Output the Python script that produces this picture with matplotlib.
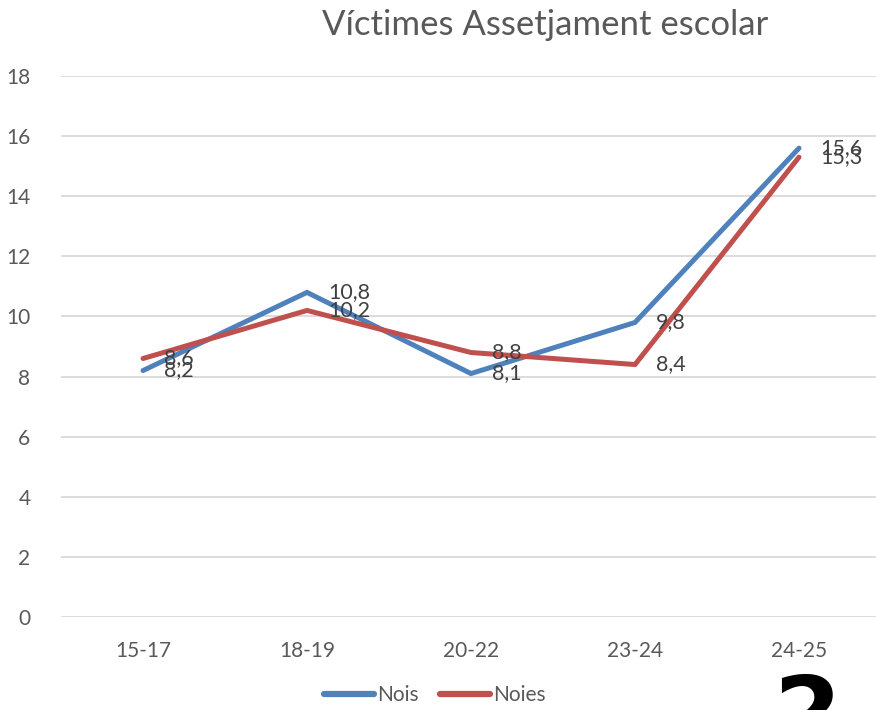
import matplotlib.pyplot as plt
import numpy as np

# data
categories = ['15-17', '18-19', '20-22', '23-24', '24-25']
nois = [8.2, 10.8, 8.1, 9.8, 15.6]
noies = [8.6, 10.2, 8.8, 8.4, 15.3]
yticks = [0, 2, 4, 6, 8, 10, 12, 14, 16, 18]

plt.rcParams['font.family'] = ['Lato', 'DejaVu Sans']

fig = plt.figure(figsize=(8.76, 7.10), dpi=100)
ax = fig.add_axes([61 / 876, 93 / 710, 820 / 876, 541 / 710])

x = np.arange(len(categories))
blue = '#4F81BD'
red = '#C0504D'
ax.plot(x, nois, color=blue, lw=3.6, solid_capstyle='round', solid_joinstyle='miter', label='Nois', zorder=3)
ax.plot(x, noies, color=red, lw=3.6, solid_capstyle='round', solid_joinstyle='miter', label='Noies', zorder=3)

# data labels to the right of the points
for xi, v in zip(x, nois):
    ax.annotate(f'{v:.1f}'.replace('.', ','), (xi, v), xytext=(15, 0), textcoords='offset points',
                va='center', ha='left', fontsize=15.5, color='#404040', zorder=4)
for xi, v in zip(x, noies):
    ax.annotate(f'{v:.1f}'.replace('.', ','), (xi, v), xytext=(15, 0), textcoords='offset points',
                va='center', ha='left', fontsize=15.5, color='#404040', zorder=4)

ax.set_xlim(-0.5, len(categories) - 0.5)
ax.set_ylim(0, 18)
ax.set_yticks(yticks)
ax.set_xticks(x)
ax.set_xticklabels(categories)
ax.grid(axis='y', color='#D9D9D9', lw=1.3)
ax.set_axisbelow(True)
for s in ax.spines.values():
    s.set_visible(False)
ax.tick_params(axis='both', length=0, labelsize=15, colors='#595959')
ax.tick_params(axis='y', pad=22)
ax.tick_params(axis='x', pad=17)

fig.text(545 / 876, 1 - 25 / 710, 'Víctimes Assetjament escolar', ha='center', va='center',
         fontsize=25, color='#595959')

leg = fig.legend(loc='center', bbox_to_anchor=(435 / 876, 1 - 695 / 710), ncol=2, frameon=False,
                 fontsize=15, labelcolor='#595959', handlelength=2.4, handletextpad=0.15,
                 columnspacing=1.0)
for h in leg.legend_handles:
    h.set_linewidth(4.5)

# stray page number cut off at the bottom
fig.text(807 / 876, 1 - 672 / 710, '2', ha='center', va='top', fontsize=70,
         fontweight='bold', color='black', family='DejaVu Sans')

fig.savefig('out.png', dpi=100)
